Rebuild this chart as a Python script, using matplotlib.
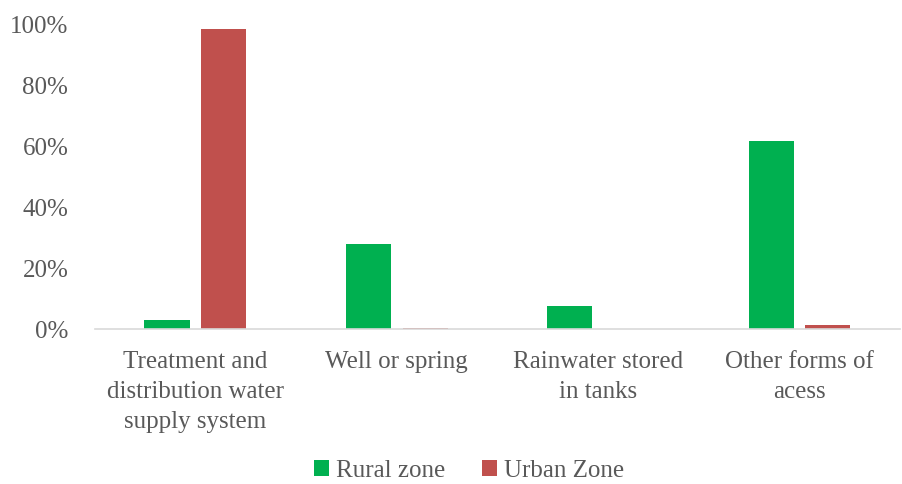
import numpy as np
import matplotlib.pyplot as plt
from matplotlib.ticker import PercentFormatter

categories = ['Treatment and\ndistribution water\nsupply system', 'Well or spring',
              'Rainwater stored\nin tanks', 'Other forms of\nacess']
rural = [0.030, 0.279, 0.075, 0.616]
urban = [0.984, 0.005, 0.0, 0.013]

plt.rcParams['font.family'] = ['Liberation Serif', 'DejaVu Serif']
text_color = '#595959'

fig = plt.figure(figsize=(9.02, 4.84), dpi=100)
ax = fig.add_axes([0.105, 0.32, 0.893, 0.63])

x = np.arange(len(categories))
w = 0.224
off = 0.141
ax.bar(x - off, rural, w, color='#00B050', label='Rural zone')
ax.bar(x + off, urban, w, color='#C0504D', label='Urban Zone')

ax.set_xlim(-0.5, len(categories) - 0.5)
ax.set_ylim(0, 1.0)
ax.yaxis.set_major_formatter(PercentFormatter(1.0, decimals=0))
ax.set_yticks(np.arange(0, 1.01, 0.2))
ax.set_xticks(x)
ax.set_xticklabels(categories, linespacing=1.45)
ax.tick_params(axis='both', length=0, labelsize=18, colors=text_color)
ax.tick_params(axis='x', pad=16)
ax.tick_params(axis='y', pad=19)

for s in ['top', 'right', 'left']:
    ax.spines[s].set_visible(False)
ax.spines['bottom'].set_color('#D9D9D9')
ax.spines['bottom'].set_linewidth(1.2)

fig.legend(loc='lower center', bbox_to_anchor=(0.52, -0.042), ncol=2, frameon=False,
           fontsize=18, labelcolor=text_color, handlelength=0.6, handleheight=0.6,
           handletextpad=0.25, columnspacing=1.5)

fig.savefig('out.png', dpi=100)
